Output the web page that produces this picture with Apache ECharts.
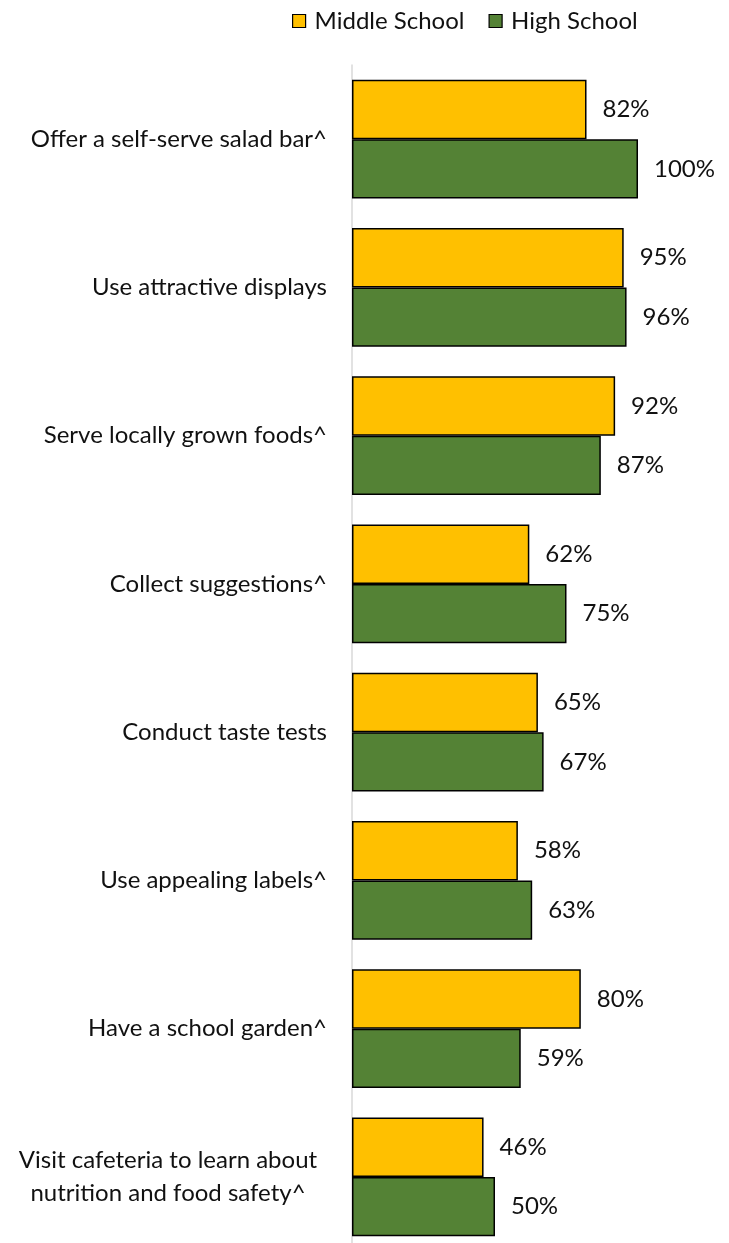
<!DOCTYPE html>
<html>
<head>
<meta charset="utf-8">
<script src="https://cdn.jsdelivr.net/npm/echarts@6/dist/echarts.min.js"></script>
<style>
  html, body { margin: 0; padding: 0; background: #fff; }
  #chart { width: 729px; height: 1243px; }
</style>
</head>
<body>
<div id="chart"></div>
<script>
// Healthy-eating strategies by school level (percent of schools)
var categories = [
  'Offer a self-serve salad bar^',
  'Use attractive displays',
  'Serve locally grown foods^',
  'Collect suggestions^',
  'Conduct taste tests',
  'Use appealing labels^',
  'Have a school garden^',
  'Visit cafeteria to learn about\nnutrition and food safety^'
];
var middleSchool = [82, 95, 92, 62, 65, 58, 80, 46];
var highSchool = [100, 96, 87, 75, 67, 63, 59, 50];
var seriesNames = ['Middle School', 'High School'];

var FONT = 'Lato';
var TEXT = '#111';
var SIZE = 24;

// the two-line label is centred line by line, like a wrapped text box
var yData = categories.map(function (c) {
  if (c.indexOf('\n') >= 0) {
    return { value: c, textStyle: { align: 'center', padding: [0, 318, 0, 0], lineHeight: 33 } };
  }
  return c;
});

var chart = echarts.init(document.getElementById('chart'));
chart.setOption({
  animation: false,
  textStyle: { fontFamily: FONT },
  legend: {
    data: seriesNames,
    left: 287,
    top: 4,
    itemWidth: 13,
    itemHeight: 13,
    itemGap: 24,
    icon: 'rect',
    itemStyle: { borderColor: '#000', borderWidth: 1.2 },
    textStyle: { fontFamily: FONT, fontSize: 24, color: TEXT, padding: [0, 0, 0, 4] }
  },
  grid: {
    left: 352, top: 65, width: 286, height: 1186,
    containLabel: false,
    outerBoundsMode: 'none'
  },
  xAxis: {
    type: 'value', min: 0, max: 100, show: false
  },
  yAxis: {
    type: 'category',
    inverse: true,
    data: yData,
    axisLine: { show: true, lineStyle: { color: '#d9d9d9', width: 1.5 } },
    axisTick: { show: false },
    axisLabel: {
      margin: 25,
      fontFamily: FONT,
      fontSize: SIZE,
      color: TEXT
    }
  },
  series: [
    {
      name: seriesNames[0],
      type: 'bar',
      data: middleSchool,
      barGap: '0%',
      barCategoryGap: '20%',
      itemStyle: { color: '#FFC000', borderColor: '#000', borderWidth: 1.5 },
      label: {
        show: true, position: 'right', distance: 16,
        formatter: '{c}%', fontFamily: FONT, fontSize: SIZE, color: TEXT
      }
    },
    {
      name: seriesNames[1],
      type: 'bar',
      data: highSchool,
      barGap: '0%',
      barCategoryGap: '20%',
      itemStyle: { color: '#548235', borderColor: '#000', borderWidth: 1.5 },
      label: {
        show: true, position: 'right', distance: 16,
        formatter: '{c}%', fontFamily: FONT, fontSize: SIZE, color: TEXT
      }
    }
  ]
});
</script>
</body>
</html>
